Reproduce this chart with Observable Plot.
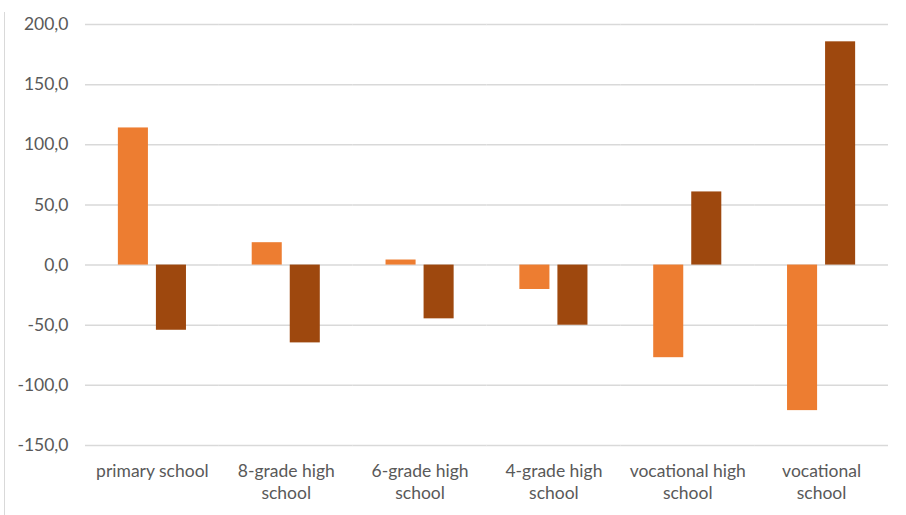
<!DOCTYPE html>
<html>
<head>
<meta charset="utf-8">
<script src="https://cdn.jsdelivr.net/npm/d3@7"></script>
<script src="https://cdn.jsdelivr.net/npm/@observablehq/plot@0.6"></script>
<style>
  html, body { margin: 0; padding: 0; background: #fff; }
  #wrap { position: relative; width: 906px; height: 515px; overflow: hidden; }
  #border { position: absolute; left: 4px; top: 12px; width: 1px; height: 503px; background: #d9d9d9; }
</style>
</head>
<body>
<div id="wrap"><div id="border"></div></div>
<script>
const categories = ["primary school", "8-grade high school", "6-grade high school", "4-grade high school", "vocational high school", "vocational school"];
const categoryLabels = ["primary school", "8-grade high\nschool", "6-grade high\nschool", "4-grade high\nschool", "vocational high\nschool", "vocational\nschool"];
const seriesNames = ["A", "B"];
const seriesA = [114, 18.6, 4.2, -20.3, -77, -121];
const seriesB = [-54.2, -64.7, -44.7, -50, 60.8, 185.6];
const seriesColors = ["#ED7D31", "#9E480E"];
const yTicks = [-150, -100, -50, 0, 50, 100, 150, 200];

const data = [];
categories.forEach((c, i) => {
  data.push({category: c, series: seriesNames[0], value: seriesA[i]});
  data.push({category: c, series: seriesNames[1], value: seriesB[i]});
});
const labelOf = new Map(categories.map((c, i) => [c, categoryLabels[i]]));
const fmt = d => d.toFixed(1).replace(".", ",");

const chart = Plot.plot({
  width: 906,
  height: 515,
  marginTop: 24,
  marginBottom: 70,
  marginLeft: 85,
  marginRight: 18,
  style: {fontFamily: "Lato, 'Open Sans', sans-serif", fontSize: "17.5px", color: "#595959", background: "transparent"},
  fx: {domain: categories, padding: 0, round: false, label: null},
  x: {domain: seriesNames, paddingInner: 0.21, paddingOuter: 0.864, round: false, axis: null},
  y: {domain: [-150, 200], label: null},
  color: {domain: seriesNames, range: seriesColors},
  marks: [
    Plot.gridY(yTicks, {stroke: "#d9d9d9", strokeOpacity: 1, strokeWidth: 1.5}),
    Plot.barY(data, {fx: "category", x: "series", y: "value", fill: "series"}),
    Plot.axisY(yTicks, {tickSize: 0, tickPadding: 17, tickFormat: fmt, fill: "#595959", fontSize: 17.5, label: null}),
    Plot.axisFx({anchor: "bottom", tickSize: 0, tickPadding: 15.5, tickFormat: d => labelOf.get(d), fill: "#595959", fontSize: 17.5, lineHeight: 1.26, label: null})
  ]
});
document.getElementById("wrap").appendChild(chart);
</script>
</body>
</html>
